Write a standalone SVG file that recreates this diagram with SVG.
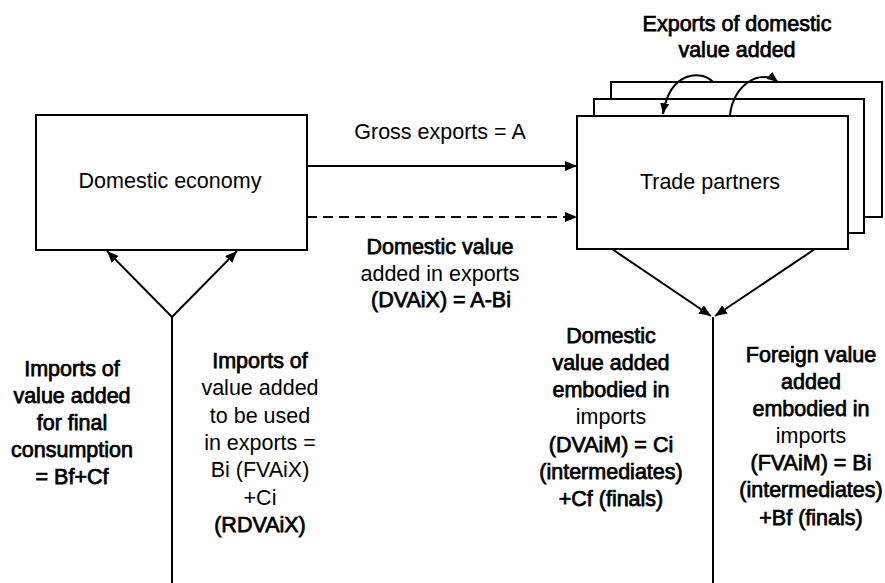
<svg xmlns="http://www.w3.org/2000/svg" width="885" height="583" viewBox="0 0 885 583">
<style>
  .box { fill: #fff; stroke: #000; stroke-width: 2; }
  .ln { fill: none; stroke: #000; stroke-width: 2; }
  .dash { stroke-dasharray: 10 6; }
  text { font-family: "Liberation Sans", Arial, sans-serif; font-size: 21.5px; fill: #000; text-anchor: middle; }
  .b { stroke: #000; stroke-width: 0.75; }
</style>
<defs>
  <marker id="ah" viewBox="0 0 12 10" refX="12" refY="5" markerWidth="12" markerHeight="10" markerUnits="userSpaceOnUse" orient="auto">
    <path d="M0,0 L12,5 L0,10 z" fill="#000"/>
  </marker>
  <marker id="ahs" viewBox="0 0 12 10" refX="12" refY="5" markerWidth="11" markerHeight="9" markerUnits="userSpaceOnUse" orient="auto">
    <path d="M0,0 L12,5 L0,10 z" fill="#000"/>
  </marker>
</defs>

<g id="node-domestic">
  <rect class="box" x="36" y="115" width="271" height="135"/>
  <text x="170" y="188">Domestic economy</text>
</g>

<g id="node-trade-partners">
  <rect class="box" x="611" y="82" width="271" height="135"/>
  <rect class="box" x="594" y="99" width="270" height="134"/>
  <rect class="box" x="577" y="116" width="271" height="133"/>
  <text x="710" y="189">Trade partners</text>
</g>

<g id="connectors">
  <line class="ln" x1="307" y1="166" x2="577" y2="166" marker-end="url(#ah)"/>
  <line class="ln dash" x1="307" y1="217" x2="577" y2="217" marker-end="url(#ah)"/>
  <line class="ln" x1="172" y1="583" x2="172" y2="317"/>
  <line class="ln" x1="172" y1="317" x2="107" y2="251" marker-end="url(#ah)"/>
  <line class="ln" x1="172" y1="317" x2="237" y2="251" marker-end="url(#ah)"/>
  <line class="ln" x1="612" y1="249" x2="711" y2="316" marker-end="url(#ah)"/>
  <line class="ln" x1="815" y1="249" x2="715" y2="316" marker-end="url(#ah)"/>
  <line class="ln" x1="713" y1="317" x2="713" y2="583"/>
  <path class="ln" d="M713,82 C702,70 670,70 663,114" marker-end="url(#ahs)"/>
  <path class="ln" d="M730,115 C733,85 760,68 778,82" marker-end="url(#ahs)"/>
</g>

<g id="label-exports-dva">
  <text class="b" x="737" y="31">Exports of domestic</text>
  <text class="b" x="737" y="57">value added</text>
</g>

<g id="label-gross-exports">
  <text x="440" y="139">Gross exports = A</text>
</g>

<g id="label-dvaix">
  <text class="b" x="440" y="254">Domestic value</text>
  <text x="440" y="281">added in exports</text>
  <text class="b" x="441" y="307">(DVAiX) = A-Bi</text>
</g>

<g id="label-imports-final">
  <text class="b" x="72" y="376">Imports of</text>
  <text class="b" x="72" y="403">value added</text>
  <text class="b" x="72" y="430">for final</text>
  <text class="b" x="72" y="457">consumption</text>
  <text class="b" x="72" y="484">= Bf+Cf</text>
</g>

<g id="label-imports-exports">
  <text class="b" x="260" y="368">Imports of</text>
  <text x="260" y="395">value added</text>
  <text x="260" y="423">to be used</text>
  <text x="260" y="450">in exports =</text>
  <text x="260" y="477">Bi (FVAiX)</text>
  <text x="260" y="505">+Ci</text>
  <text class="b" x="260" y="532">(RDVAiX)</text>
</g>

<g id="label-dvaim">
  <text class="b" x="611" y="343">Domestic</text>
  <text class="b" x="611" y="370">value added</text>
  <text class="b" x="611" y="397">embodied in</text>
  <text x="611" y="424">imports</text>
  <text class="b" x="611" y="452">(DVAiM) = Ci</text>
  <text class="b" x="611" y="479">(intermediates)</text>
  <text class="b" x="611" y="506">+Cf (finals)</text>
</g>

<g id="label-fvaim">
  <text class="b" x="811" y="362">Foreign value</text>
  <text class="b" x="811" y="389">added</text>
  <text class="b" x="811" y="416">embodied in</text>
  <text x="811" y="443">imports</text>
  <text class="b" x="811" y="470">(FVAiM) = Bi</text>
  <text class="b" x="811" y="497">(intermediates)</text>
  <text class="b" x="811" y="525">+Bf (finals)</text>
</g>
</svg>
